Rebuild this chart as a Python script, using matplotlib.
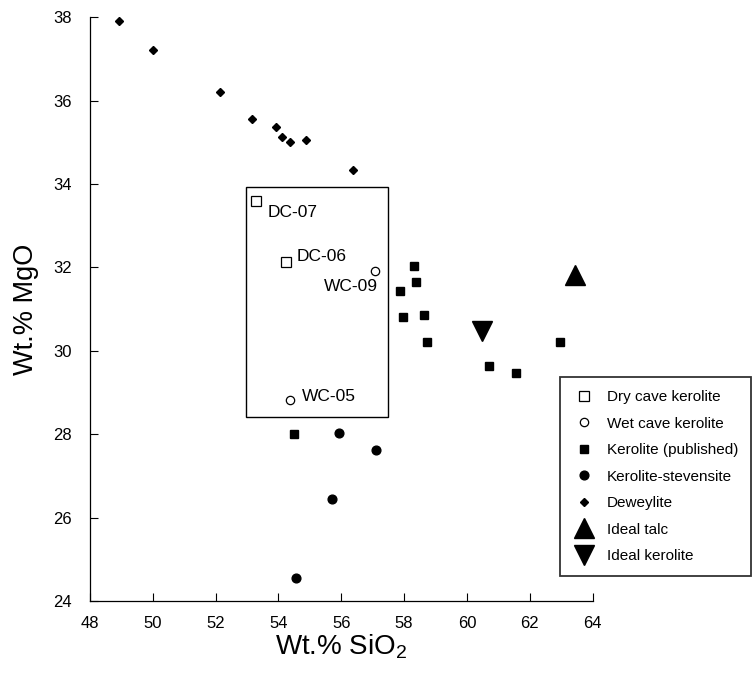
import matplotlib
matplotlib.use('Agg')
import matplotlib.pyplot as plt
import matplotlib.patches as mpatches

plt.rcParams['font.family'] = ['Liberation Sans', 'DejaVu Sans']
plt.rcParams['mathtext.default'] = 'regular'

# values (Wt.% SiO2, Wt.% MgO)
dry_names = ['DC-07', 'DC-06']
dry_x = [53.29, 54.24]
dry_y = [33.60, 32.14]

wet_names = ['WC-09', 'WC-05']
wet_x = [57.06, 54.37]
wet_y = [31.92, 28.82]

pub_x = [58.32, 58.38, 57.87, 57.98, 58.62, 58.72, 60.69, 61.56, 62.97, 54.51]
pub_y = [32.04, 31.64, 31.44, 30.82, 30.86, 30.20, 29.64, 29.48, 30.22, 28.00]

stev_x = [55.94, 57.10, 55.69, 54.56]
stev_y = [28.02, 27.62, 26.44, 24.54]

dew_x = [48.92, 50.01, 52.14, 53.17, 53.92, 54.11, 54.36, 54.88, 56.38]
dew_y = [37.92, 37.22, 36.21, 35.56, 35.37, 35.12, 35.00, 35.05, 34.34]

talc_x = [63.43]
talc_y = [31.83]
ideal_ker_x = [60.49]
ideal_ker_y = [30.48]

# box around this study's samples: x0, x1, y0, y1
box = [52.96, 57.50, 28.42, 33.94]

x_ticks = [48, 50, 52, 54, 56, 58, 60, 62, 64]
y_ticks = [24, 26, 28, 30, 32, 34, 36, 38]

fig = plt.figure(figsize=(7.55, 6.73), dpi=100)
ax = fig.add_axes([0.1192, 0.107, 0.6656, 0.8673])

ax.plot(dry_x, dry_y, 's', mfc='white', mec='black', mew=0.9, ms=6.5,
        ls='none', label='Dry cave kerolite')
ax.plot(wet_x, wet_y, 'o', mfc='white', mec='black', mew=0.9, ms=6,
        ls='none', label='Wet cave kerolite')
ax.plot(pub_x, pub_y, 's', color='black', ms=5.3, ls='none',
        label='Kerolite (published)')
ax.plot(stev_x, stev_y, 'o', color='black', ms=6.3, ls='none',
        label='Kerolite-stevensite')
ax.plot(dew_x, dew_y, 'D', color='black', ms=3.6, ls='none',
        label='Deweylite')
ax.plot(talc_x, talc_y, '^', color='black', ms=14, ls='none',
        label='Ideal talc')
ax.plot(ideal_ker_x, ideal_ker_y, 'v', color='black', ms=14, ls='none',
        label='Ideal kerolite')

# sample labels
offsets = {'DC-07': (8, -8.6, 'left'), 'DC-06': (7.7, 3.6, 'left'),
           'WC-09': (2.4, -11.3, 'right'), 'WC-05': (8.4, 2.9, 'left')}
for name, x, y in zip(dry_names + wet_names, dry_x + wet_x, dry_y + wet_y):
    dx, dy, ha = offsets[name]
    ax.annotate(name, (x, y), xytext=(dx, dy), textcoords='offset points',
                ha=ha, va='center', fontsize=12.5)

rect = mpatches.Rectangle((box[0], box[2]), box[1] - box[0], box[3] - box[2],
                          fill=False, ec='black', lw=1.0)
ax.add_patch(rect)

ax.set_xlim(48, 64)
ax.set_ylim(24, 38)
ax.set_xticks(x_ticks)
ax.set_yticks(y_ticks)
ax.tick_params(direction='in', length=6, width=0.8, labelsize=12)
ax.tick_params(axis='x', pad=11)
ax.tick_params(axis='y', pad=13)
ax.spines['top'].set_visible(False)
ax.spines['right'].set_visible(False)
for s in ['left', 'bottom']:
    ax.spines[s].set_linewidth(0.9)

ax.set_xlabel('Wt.% SiO$_2$', fontsize=20, labelpad=1)
ax.set_ylabel('Wt.% MgO', fontsize=19.5, labelpad=10)

leg = ax.legend(loc='upper left', bbox_to_anchor=(560 / 755, 1 - 377 / 673),
                bbox_transform=fig.transFigure, borderaxespad=0,
                fancybox=False, frameon=True, fontsize=11, borderpad=0.85,
                handlelength=1.5, handletextpad=0.72, labelspacing=0.82)
leg.get_frame().set_edgecolor('black')
leg.get_frame().set_linewidth(1.3)
leg.set_clip_on(False)

fig.savefig('out.png', dpi=100)
